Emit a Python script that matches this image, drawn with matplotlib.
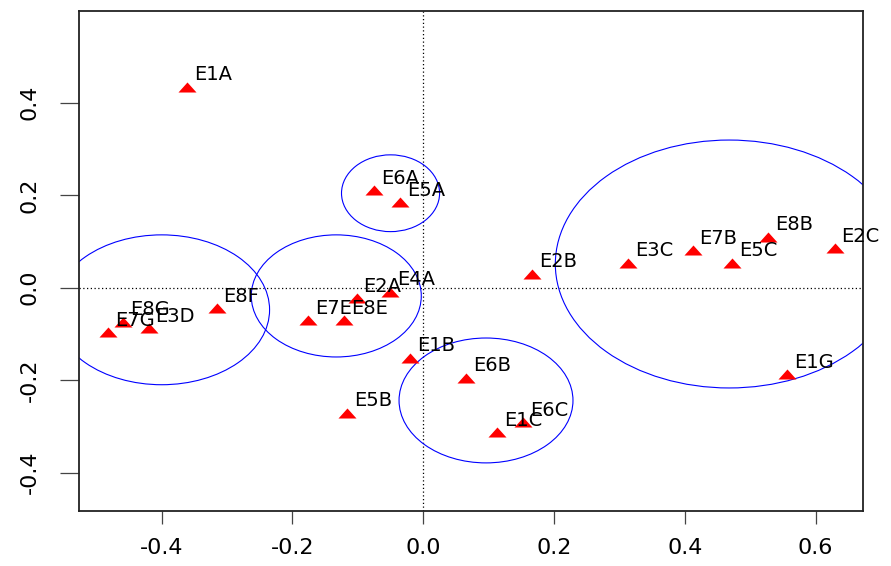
import matplotlib
matplotlib.use("Agg")
import matplotlib.pyplot as plt
from matplotlib.patches import Ellipse
import numpy as np

labels = ["E1A", "E6A", "E5A", "E2B", "E3C", "E7B", "E5C", "E8B", "E2C", "E1G",
          "E1B", "E6B", "E6C", "E1C", "E5B", "E8F", "E7G", "E8G", "E3D",
          "E7E", "E8E", "E2A", "E4A"]
x_vals = [-0.361, -0.075, -0.036, 0.166, 0.313, 0.412, 0.472, 0.527, 0.629, 0.556,
          -0.020, 0.065, 0.153, 0.113, -0.117, -0.316, -0.482, -0.459, -0.420,
          -0.176, -0.121, -0.102, -0.051]
y_vals = [0.434, 0.210, 0.184, 0.030, 0.054, 0.081, 0.054, 0.110, 0.085, -0.187,
          -0.152, -0.195, -0.291, -0.313, -0.271, -0.045, -0.097, -0.074, -0.088,
          -0.070, -0.070, -0.023, -0.009]

# circles: center x, center y, radius x, radius y
circ_x = [-0.400, -0.133, -0.050, 0.096, 0.468]
circ_y = [-0.048, -0.018, 0.204, -0.244, 0.051]
circ_rx = [0.165, 0.130, 0.075, 0.133, 0.266]
circ_ry = [0.162, 0.132, 0.083, 0.135, 0.268]

xticks = [-0.4, -0.2, 0.0, 0.2, 0.4, 0.6]
yticks = [-0.4, -0.2, 0.0, 0.2, 0.4]

plt.rcParams['font.family'] = ['DejaVu Sans']

fig = plt.figure(figsize=(8.91, 5.66), dpi=100)
ax = fig.add_axes([79.3/891, 1-511/566, (863.3-79.3)/891, (511-11)/566])
ax.set_xlim(-0.526, 0.673)
ax.set_ylim(-0.483, 0.598)

ax.axhline(0, color='black', lw=0.9, linestyle=(0, (1, 2)), zorder=1)
ax.axvline(0, color='black', lw=0.9, linestyle=(0, (1, 2)), zorder=1)

for cx, cy, rx, ry in zip(circ_x, circ_y, circ_rx, circ_ry):
    e = Ellipse((cx, cy), 2*rx, 2*ry, fill=False, edgecolor='#0000FF', lw=0.8, zorder=2)
    ax.add_patch(e)

tri = [(-0.9, -0.5), (0.9, -0.5), (0.0, 0.5), (-0.9, -0.5)]
ax.scatter(x_vals, y_vals, marker=tri, s=13**2, color='#FF0000', linewidths=0, zorder=3)

for lab, x, y in zip(labels, x_vals, y_vals):
    ax.annotate(lab, (x, y), xytext=(5, 8.6), textcoords='offset points',
                ha='left', va='center', fontsize=14, color='black', zorder=4)

ax.set_xticks(xticks)
ax.set_xticklabels([f"{t:.1f}" for t in xticks])
ax.set_yticks(yticks)
ax.set_yticklabels([f"{t:.1f}" for t in yticks], rotation=90, va='center')
ax.tick_params(axis='x', length=9.5, width=0.9, color='#444444', pad=10, labelsize=16)
ax.tick_params(axis='y', length=13.5, width=0.9, color='#444444', pad=15, labelsize=16)
for sp in ax.spines.values():
    sp.set_color('#222222')
    sp.set_linewidth(1.3)

fig.savefig("out.png", dpi=100)
